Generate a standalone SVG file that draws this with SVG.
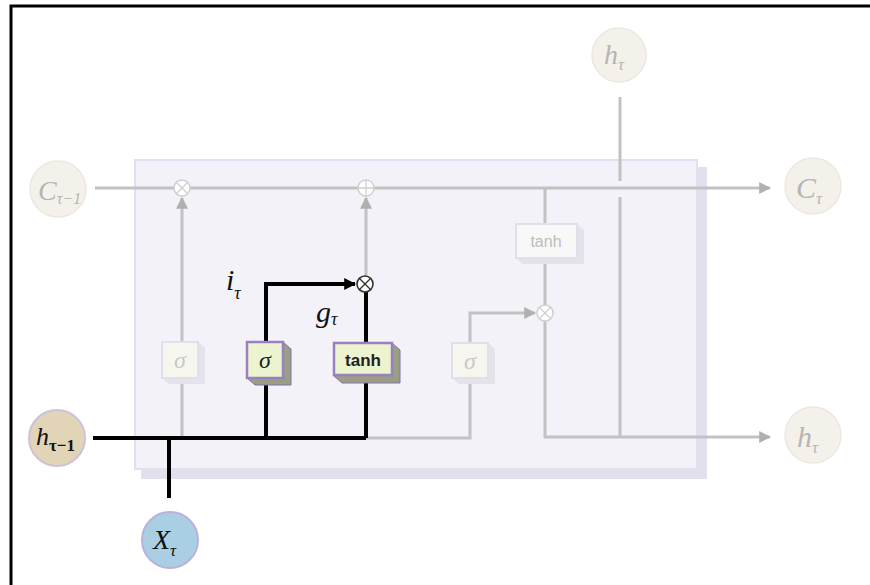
<svg xmlns="http://www.w3.org/2000/svg" width="870" height="585" viewBox="0 0 870 585">
<style>
.g{stroke:#c2c2c2;stroke-width:3;fill:none}
.k{stroke:#000;stroke-width:4;fill:none}
.faint{fill:#f4f1ea;stroke:#ece8e0;stroke-width:1.5}
.ft{font-family:"Liberation Serif",serif;font-style:italic;fill:#b5b5b5}
.bt{font-family:"Liberation Serif",serif;font-style:italic;fill:#111}
.op{fill:#fff;stroke:#cfcfcf;stroke-width:1.5}
</style>
<defs>
<marker id="ag" viewBox="0 0 10 10" refX="9" refY="5" markerWidth="4" markerHeight="4" orient="auto"><path d="M0,0L10,5L0,10z" fill="#b0b0b0"/></marker>
<marker id="ak" viewBox="0 0 10 10" refX="9" refY="5" markerWidth="3" markerHeight="3" orient="auto"><path d="M0,0L10,5L0,10z" fill="#000"/></marker>
</defs>
<rect width="870" height="585" fill="#fff"/>
<path d="M11,585V6H870" stroke="#000" stroke-width="3" fill="none"/>

<g id="cell">
<rect x="141" y="167" width="566" height="312" fill="#e3e0ed"/>
<rect x="135" y="160" width="562" height="309" fill="#f3f2f9" stroke="#e2dff0" stroke-width="2"/>
</g>

<g id="connectors">
<path class="g" d="M95,188H770" marker-end="url(#ag)"/>
<path class="g" d="M620,97V181M620,197V437"/>
<path class="g" d="M545,188V437H770" marker-end="url(#ag)"/>
<path class="g" d="M182,438V198" marker-end="url(#ag)"/>
<path class="g" d="M366,276V198" marker-end="url(#ag)"/>
<path class="g" d="M366,438H470V313H535" marker-end="url(#ag)"/>
<path class="k" d="M93,438H366"/>
<path class="k" d="M169,438V498"/>
<path class="k" d="M266,438V284H355" marker-end="url(#ak)"/>
<path class="k" d="M366,438V292"/>
</g>

<g id="C_prev"><circle class="faint" cx="58" cy="189" r="28"/><text class="ft" x="38" y="200" font-size="28">C<tspan font-size="16" dy="4">τ−1</tspan></text></g>
<g id="h_top"><circle class="faint" cx="619" cy="55" r="27"/><text class="ft" x="604" y="64" font-size="28">h<tspan font-size="17" dy="6">τ</tspan></text></g>
<g id="C_next"><circle class="faint" cx="813" cy="186" r="28"/><text class="ft" x="796" y="198" font-size="30">C<tspan font-size="17" dy="6">τ</tspan></text></g>
<g id="h_next"><circle class="faint" cx="813" cy="435" r="28"/><text class="ft" x="797" y="447" font-size="30">h<tspan font-size="17" dy="6">τ</tspan></text></g>
<g id="h_prev"><circle cx="57" cy="438" r="28" fill="#e2d4b6" stroke="#cdc2d8" stroke-width="2"/><text class="bt" x="36" y="445" font-size="26">h<tspan font-size="17" font-style="normal" font-weight="bold" dy="6">τ−1</tspan></text></g>
<g id="X_t"><circle cx="170" cy="540" r="28" fill="#aacfe2" stroke="#b9b2dd" stroke-width="2"/><text class="bt" x="153" y="549" font-size="28">X<tspan font-size="17" dy="7">τ</tspan></text></g>

<g id="mul_forget"><circle class="op" cx="182" cy="188" r="8"/><path d="M176,182l12,12M188,182l-12,12" stroke="#cfcfcf" stroke-width="1.3"/></g>
<g id="add"><circle class="op" cx="366" cy="188" r="8"/><path d="M358,188h16M366,180v16" stroke="#cfcfcf" stroke-width="1.3"/></g>
<g id="mul_input"><circle cx="365" cy="284" r="8" fill="#fff" stroke="#333" stroke-width="1.6"/><path d="M359,278l12,12M371,278l-12,12" stroke="#333" stroke-width="1.4"/></g>
<g id="mul_output"><circle class="op" cx="545" cy="313" r="8"/><path d="M539,307l12,12M551,307l-12,12" stroke="#cfcfcf" stroke-width="1.3"/></g>

<g id="sig_forget">
<path d="M198,342l7,6v36h-36l-7,-6z" fill="#e4e2ea"/>
<rect x="162" y="342" width="36" height="36" fill="#f6f6ef" stroke="#e2deea" stroke-width="2"/>
<text x="180" y="368" text-anchor="middle" font-family="Liberation Serif,serif" font-style="italic" font-size="24" fill="#c8c8c8">σ</text>
</g>
<g id="sig_input">
<path d="M283,342l8,7v36h-36l-8,-7z" fill="#9a9e84" stroke="#8a6fb0" stroke-width="1"/>
<rect x="247" y="342" width="36" height="36" fill="#ecf3cf" stroke="#9a7fc2" stroke-width="2.5"/>
<text x="265" y="368" text-anchor="middle" font-family="Liberation Serif,serif" font-style="italic" font-size="24" fill="#222">σ</text>
</g>
<g id="tanh_input">
<path d="M392,343l8,7v33h-58l-8,-7z" fill="#9a9e84" stroke="#8a6fb0" stroke-width="1"/>
<rect x="334" y="343" width="58" height="32" fill="#ecf3cf" stroke="#9a7fc2" stroke-width="2.5"/>
<text x="363" y="366" text-anchor="middle" font-family="Liberation Sans,Arial,sans-serif" font-weight="bold" font-size="17" fill="#222">tanh</text>
</g>
<g id="sig_output">
<path d="M488,343l7,6v35h-36l-7,-6z" fill="#e4e2ea"/>
<rect x="452" y="343" width="36" height="35" fill="#f6f6ef" stroke="#e2deea" stroke-width="2"/>
<text x="470" y="369" text-anchor="middle" font-family="Liberation Serif,serif" font-style="italic" font-size="24" fill="#c8c8c8">σ</text>
</g>
<g id="tanh_output">
<path d="M577,224l7,6v34h-61l-7,-6z" fill="#e4e2ea"/>
<rect x="516" y="224" width="61" height="34" fill="#f8f8f8" stroke="#e2deea" stroke-width="2"/>
<text x="546" y="247" text-anchor="middle" font-family="Liberation Sans,Arial,sans-serif" font-size="16" fill="#bdbdbd">tanh</text>
</g>

<g id="label_i"><text class="bt" x="226" y="290" font-size="30">i<tspan font-size="18" dy="9">τ</tspan></text></g>
<g id="label_g"><text class="bt" x="316" y="322" font-size="30">g<tspan font-size="18" dy="3">τ</tspan></text></g>
</svg>
